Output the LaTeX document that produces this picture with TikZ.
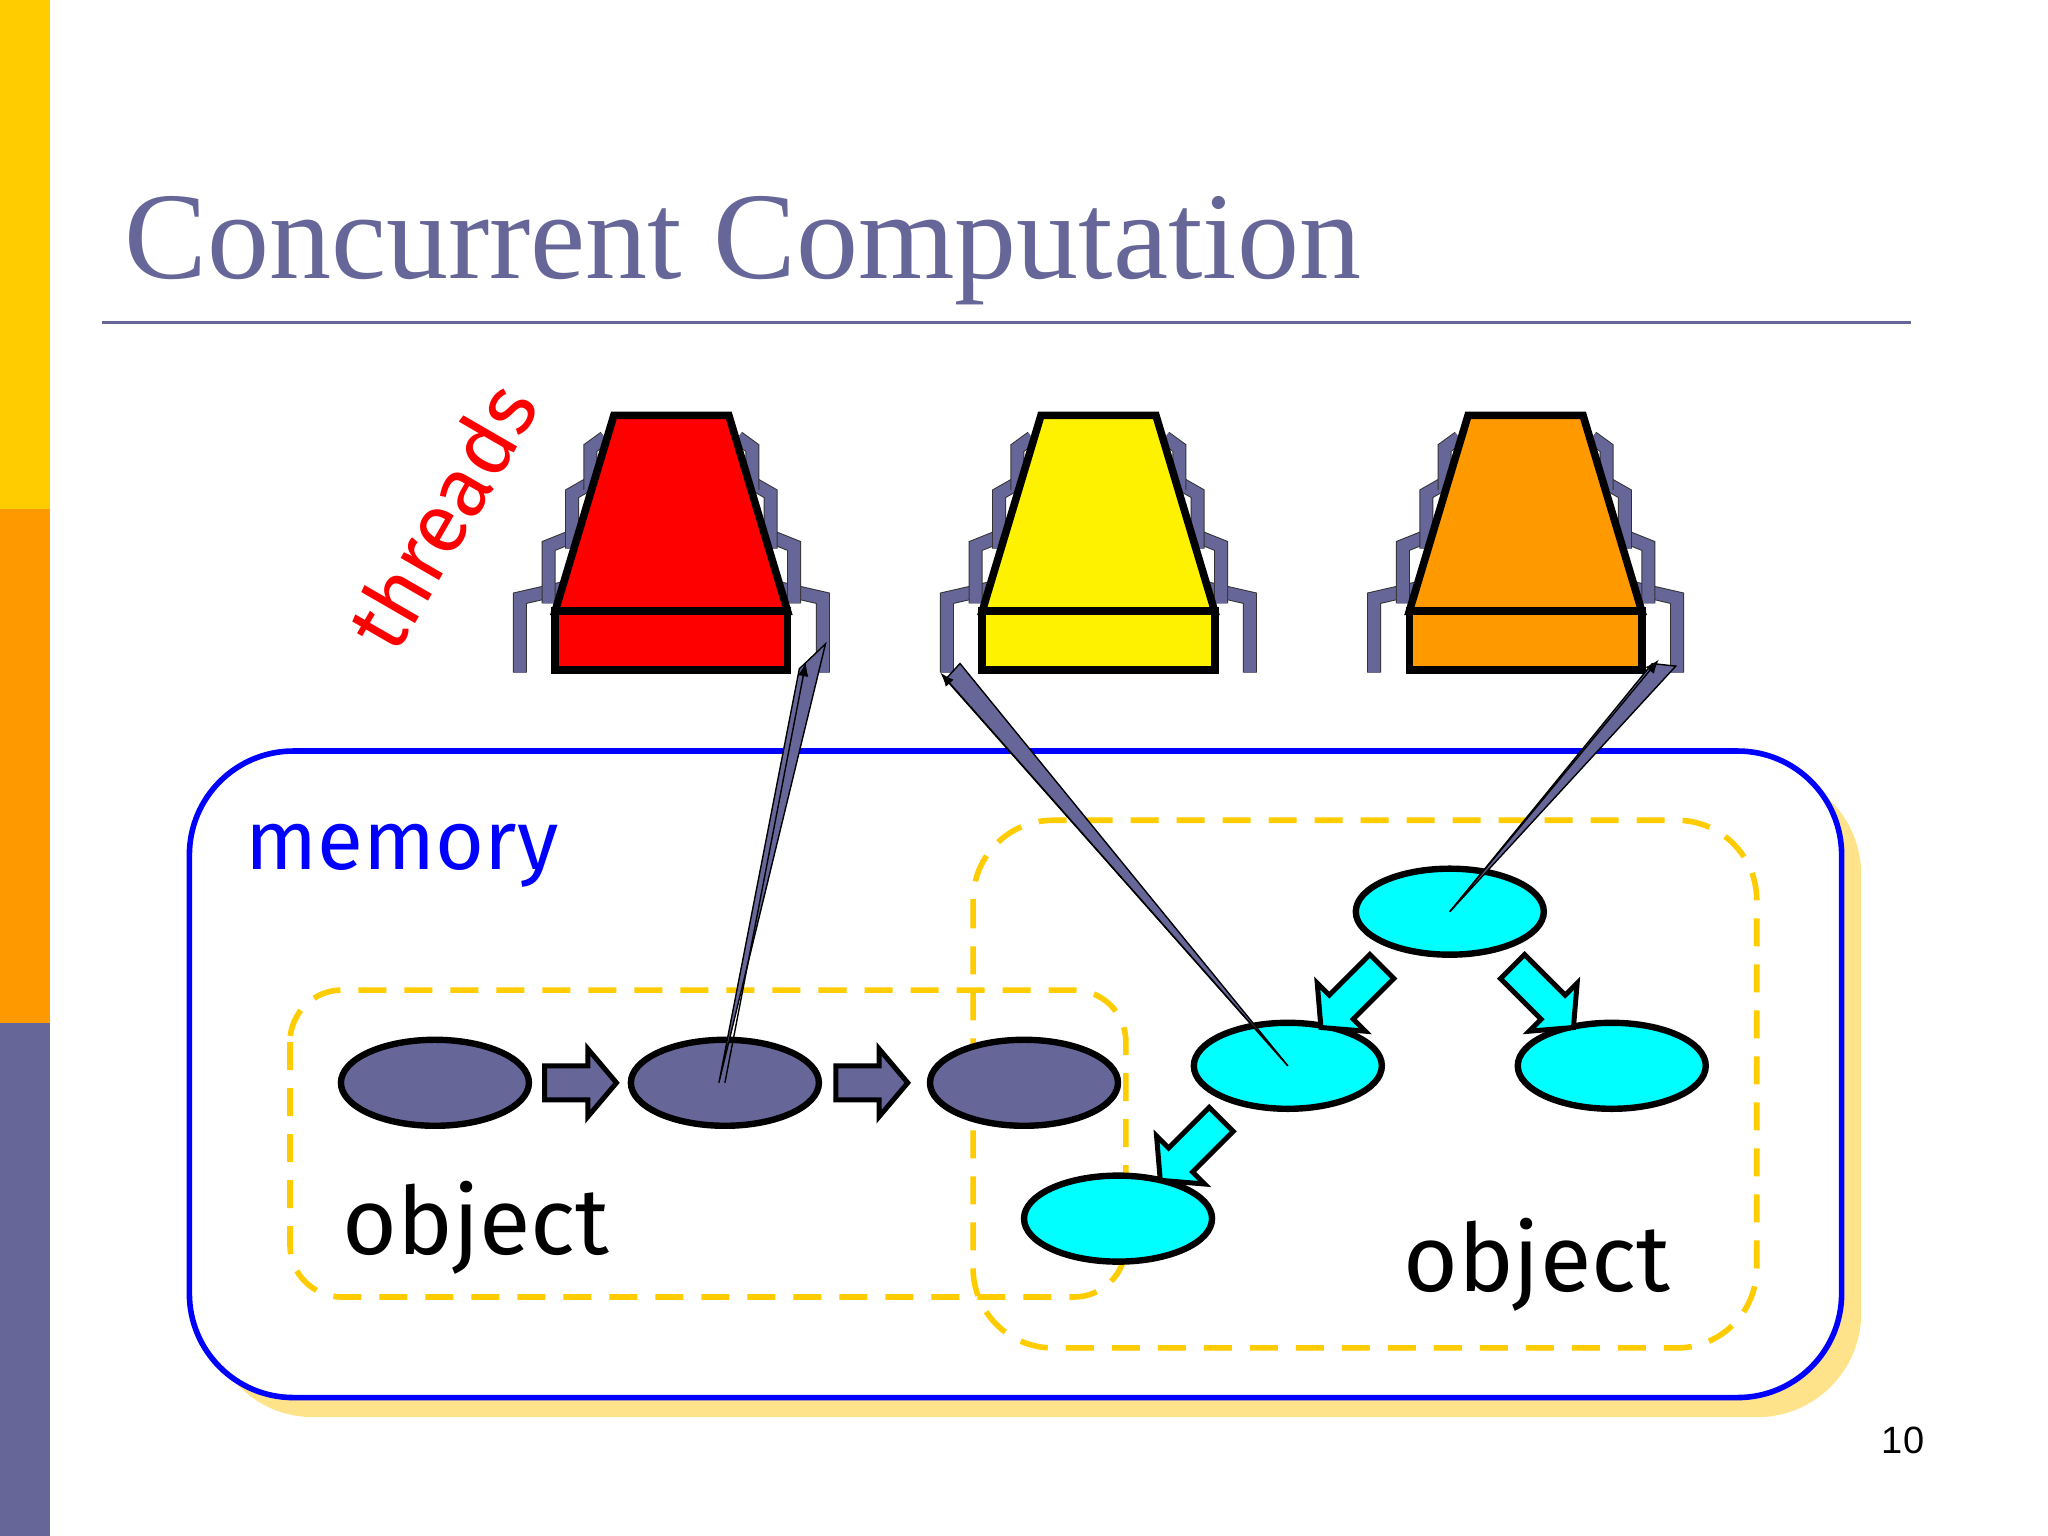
\documentclass[tikz,border=0pt]{standalone}
\usepackage{fontspec}
\usetikzlibrary{shapes.geometric,arrows.meta}
\setmainfont{Liberation Serif}
\newfontfamily\comic{Fira Sans}
\newfontfamily\arial{Liberation Sans}
\definecolor{tpurple}{HTML}{666699}
\definecolor{tyellow}{HTML}{FFCC00}
\definecolor{torange}{HTML}{FF9900}
\definecolor{tshadow}{HTML}{FFE38A}
\definecolor{tcyan}{HTML}{00FFFF}
\newcommand\myblockarrow[3]{\draw[barrow,shift={#1},rotate=#2] (0,-13)--(#3-22,-13)--(#3-22,-26)--(#3,0)--(#3-22,26)--(#3-22,13)--(0,13)--cycle;}
\newcommand\mythread[2]{%
\begin{scope}[shift={(#1,0)}]
\foreach \a/\b/\c/\d in {433/450/398/515, 440/410/420/462, 452/370/438/420, 463/335/452/375}{
 \draw[leg] (\a,\b)--(\c,\b+8)--(\c,\d);
 \draw[leg] (1028-\a,\b)--(1028-\c,\b+8)--(1028-\c,\d);}
\draw[black,line width=3.8,fill=#2] (470,318)--(558,318)--(603,468)--(425,468)--cycle;
\draw[black,line width=3.8,fill=#2] (425,468) rectangle (603,513);
\end{scope}}
\tikzset{
 ell/.style={ellipse,draw=black,line width=3.2,minimum width=94pt,minimum height=43pt,inner sep=0},
 barrow/.style={draw=black,line width=2.5,fill=tpurple},
 leg/.style={draw=tpurple,line width=6,preaction={draw=black!80,line width=7}},
 wedge/.style={fill=tpurple,draw=black,line width=0.7},
 dashbox/.style={draw=tyellow,line width=2.8,dash pattern=on 14pt off 9pt},
}
\begin{document}
\begin{tikzpicture}[x=0.653pt,y=-0.653pt,line join=miter]
\useasboundingbox (0,0) rectangle (1568,1176);
\fill[white] (0,0) rectangle (1568,1176);
\fill[tyellow] (0,0) rectangle (38,390);
\fill[torange] (0,390) rectangle (38,783);
\fill[tpurple] (0,783) rectangle (38,1176);
\node[anchor=base west,inner sep=0,text=tpurple,font=\fontsize{62}{68}\selectfont] (title) at (95,213) {Concurrent Computation};
\draw[tpurple,line width=1.8] (78,247) -- (1463,247);
% memory
\fill[tshadow,rounded corners=52pt] (160,590) rectangle (1425,1085);
\draw[blue,line width=2.8,fill=white,rounded corners=52pt] (145,575) rectangle (1410,1070);
\node[anchor=west,inner sep=0,text=blue,font=\comic\fontsize{42}{46}\selectfont] (mem) at (188,655) {memory};
\draw[dashbox,rounded corners=26pt] (222,758) rectangle (862,993);
\draw[dashbox,rounded corners=40pt] (745,628) rectangle (1345,1032);
% threads
\node[rotate=60,text=red,font=\comic\fontsize{42}{46}\selectfont] (thr) at (338,395) {threads};
\mythread{0}{red}
\mythread{327}{yellow}
\mythread{654}{torange}
% objects
\node[ell,fill=tpurple] (d1) at (333,829) {};
\node[ell,fill=tpurple] (d2) at (555,829) {};
\node[ell,fill=tpurple] (d3) at (784,829) {};
\myblockarrow{(417,829)}{0}{55}
\myblockarrow{(640,829)}{0}{55}
\node[ell,fill=tcyan] (c1) at (1110,698) {};
\node[ell,fill=tcyan] (c2) at (986,816) {};
\node[ell,fill=tcyan] (c3) at (1234,816) {};
\node[ell,fill=tcyan] (c4) at (856,933) {};
\begin{scope}[barrow/.append style={fill=tcyan}]
\myblockarrow{(1058,740)}{225}{66}
\myblockarrow{(1158,740)}{-45}{66}
\myblockarrow{(935,857)}{225}{66}
\end{scope}
\node[anchor=west,inner sep=0,font=\comic\fontsize{47}{50}\selectfont] (o1) at (262,940) {object};
\node[anchor=west,inner sep=0,font=\comic\fontsize{47}{50}\selectfont] (o2) at (1074,968) {object};
% wedges
\coordinate (t1) at (617,507);
\coordinate (t2) at (720,515);
\coordinate (t3) at (1270,505);
\draw[wedge] ([xshift=-3pt]d2.center) -- (612,512) -- (632,493) -- cycle;
\draw[wedge,-{Latex[length=7pt]}] (d2.center) -- (t1);
\draw[wedge] (c2.center) -- (735,508) -- (724,520) -- cycle;
\draw[wedge,-{Latex[length=7pt]}] (c2.center) -- (t2);
\draw[wedge] (c1.center) -- (1265,508) -- (1283,510) -- cycle;
\draw[wedge,-{Latex[length=7pt]}] (c1.center) -- (t3);
\node[font=\arial\fontsize{19}{22}\selectfont] (pg) at (1457,1103) {10};
\end{tikzpicture}
\end{document}
